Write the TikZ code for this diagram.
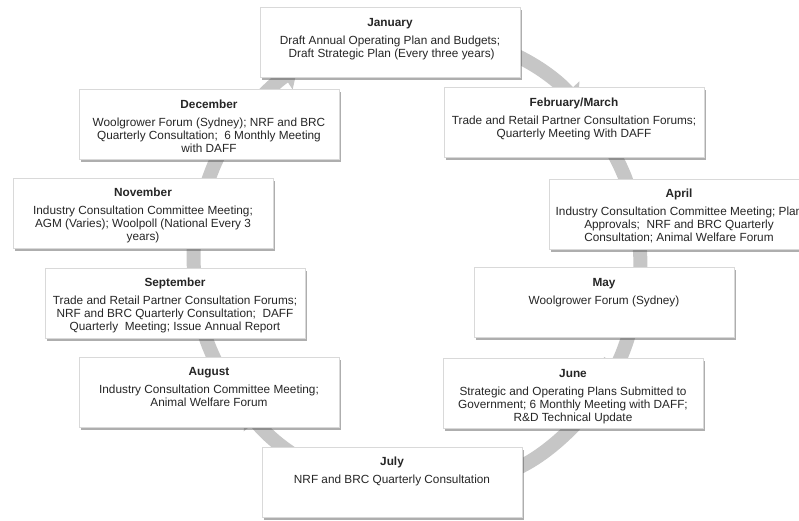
\documentclass[tikz,border=0pt]{standalone}
\usepackage{fontspec}
\setmainfont{Liberation Sans}
\usetikzlibrary{shadows,arrows.meta}
\begin{document}
\begin{tikzpicture}[x=1pt,y=-1pt,
  monthbox/.style={draw=gray!30, line width=0.6pt, fill=white, minimum width=260pt, minimum height=70pt, inner sep=0pt,
    drop shadow={shadow xshift=2pt, shadow yshift=-2.5pt, opacity=0.45, fill=black!70}},
  monthtext/.style={anchor=north, align=center, inner sep=0pt, font=\fontsize{11.8}{13}\selectfont, text=black!85},
  ringseg/.style={draw=gray!45, line width=14pt, -{Triangle[width=30pt,length=16pt]}}
]
\useasboundingbox (0,0) rectangle (799,520);
\coordinate (ctr) at (417,262);
% ring of arrows
\foreach \a/\b in {-80/-43.5, -35/-15.4, -10/7.25, 10/30.4, 35/67.9, 100/140.2, 145/166.7, 170/189.5, 192/212.6, 218/237.6}{
  \draw[ringseg] (ctr) ++(\a:223 and 230) arc[start angle=\a, end angle=\b, x radius=223, y radius=230];
}
% boxes
\node[monthbox] (jan) at (390,42.5) {};
\node[monthtext, yshift=-10.5pt] (jant) at (jan.north) {\textbf{January}\\[5pt]Draft Annual Operating Plan and Budgets;\\ \ Draft Strategic Plan (Every three years)};
\node[monthbox] (feb) at (574,122.5) {};
\node[monthtext, yshift=-10.5pt] (febt) at (feb.north) {\textbf{February/March}\\[5pt]Trade and Retail Partner Consultation Forums;\\Quarterly Meeting With DAFF};
\node[monthbox] (apr) at (679,214) {};
\node[monthtext, yshift=-10.5pt] (aprt) at (apr.north) {\textbf{April}\\[5pt]Industry Consultation Committee Meeting; Plan\\Approvals;\ \ NRF and BRC Quarterly\\Consultation; Animal Welfare Forum};
\node[monthbox] (may) at (604,302.5) {};
\node[monthtext, yshift=-10.5pt] (mayt) at (may.north) {\textbf{May}\\[5pt]Woolgrower Forum (Sydney)};
\node[monthbox] (jun) at (573,393.5) {};
\node[monthtext, yshift=-10.5pt] (junt) at (jun.north) {\textbf{June}\\[5pt]Strategic and Operating Plans Submitted to\\Government; 6 Monthly Meeting with DAFF;\\R\&D Technical Update};
\node[monthbox] (jul) at (392,482) {};
\node[monthtext, yshift=-10.5pt] (jult) at (jul.north) {\textbf{July}\\[5pt]NRF and BRC Quarterly Consultation};
\node[monthbox] (aug) at (209,392) {};
\node[monthtext, yshift=-10.5pt] (augt) at (aug.north) {\textbf{August}\\[5pt]Industry Consultation Committee Meeting;\\Animal Welfare Forum};
\node[monthbox] (sep) at (175,303) {};
\node[monthtext, yshift=-10.5pt] (sept) at (sep.north) {\textbf{September}\\[5pt]Trade and Retail Partner Consultation Forums;\\NRF and BRC Quarterly Consultation;\ \ DAFF\\Quarterly\ \ Meeting; Issue Annual Report};
\node[monthbox] (nov) at (143,213) {};
\node[monthtext, yshift=-10.5pt] (novt) at (nov.north) {\textbf{November}\\[5pt]Industry Consultation Committee Meeting;\\AGM (Varies); Woolpoll (National Every 3\\years)};
\node[monthbox] (dec) at (209,124.5) {};
\node[monthtext, yshift=-10.5pt] (dect) at (dec.north) {\textbf{December}\\[5pt]Woolgrower Forum (Sydney); NRF and BRC\\Quarterly Consultation;\ \ 6 Monthly Meeting\\with DAFF};
\end{tikzpicture}
\end{document}
